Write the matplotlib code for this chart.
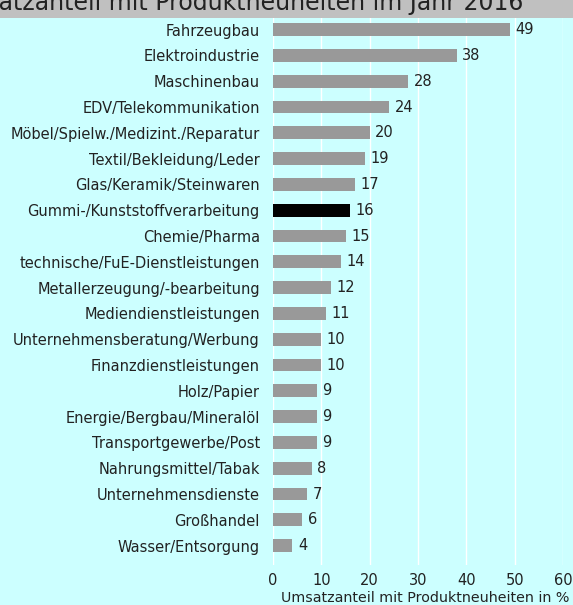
import matplotlib.pyplot as plt
from matplotlib.patches import Rectangle

# data
branchen = ["Fahrzeugbau", "Elektroindustrie", "Maschinenbau", "EDV/Telekommunikation",
            "Möbel/Spielw./Medizint./Reparatur", "Textil/Bekleidung/Leder",
            "Glas/Keramik/Steinwaren", "Gummi-/Kunststoffverarbeitung", "Chemie/Pharma",
            "technische/FuE-Dienstleistungen", "Metallerzeugung/-bearbeitung",
            "Mediendienstleistungen", "Unternehmensberatung/Werbung",
            "Finanzdienstleistungen", "Holz/Papier", "Energie/Bergbau/Mineralöl",
            "Transportgewerbe/Post", "Nahrungsmittel/Tabak", "Unternehmensdienste",
            "Großhandel", "Wasser/Entsorgung"]
anteil = [49, 38, 28, 24, 20, 19, 17, 16, 15, 14, 12, 11, 10, 10, 9, 9, 9, 8, 7, 6, 4]
highlight = "Gummi-/Kunststoffverarbeitung"
x_ticks = [0, 10, 20, 30, 40, 50, 60]

W, H = 573, 605
bg = "#ccffff"
txt = "#222222"

fig = plt.figure(figsize=(W / 100, H / 100), dpi=100)
fig.patch.set_facecolor(bg)

# gray title band at the top (title runs off the top edge like in the original)
fig.patches.append(Rectangle((0, 1 - 18 / H), 1, 18 / H, transform=fig.transFigure,
                             facecolor="#c0c0c0", edgecolor="none", zorder=0))
fig.text(523 / W, 1 - 10 / H, "Umsatzanteil mit Produktneuheiten im Jahr 2016",
         ha="right", va="baseline", fontsize=17, color=txt)

ax = fig.add_axes([273 / W, 1 - 565 / H, (563 - 273) / W, (565 - 18) / H])
ax.set_facecolor(bg)

ypos = list(range(len(branchen)))
colors = ["black" if b == highlight else "#999999" for b in branchen]
ax.barh(ypos, anteil, height=0.5, color=colors, zorder=3)

for y, v in zip(ypos, anteil):
    ax.annotate(str(v), (v, y), xytext=(4, 0), textcoords="offset points",
                va="center", ha="left", fontsize=10.5, color=txt)

ax.set_xlim(0, 60)
ax.set_ylim(20.75, -0.45)
ax.set_yticks(ypos)
ax.set_yticklabels(branchen, fontsize=10.5, color=txt)
ax.set_xticks(x_ticks)
ax.set_xticklabels([str(t) for t in x_ticks], fontsize=10.5, color=txt)
ax.tick_params(axis="y", length=0, pad=9.5)
ax.tick_params(axis="x", length=0, pad=6)
ax.grid(axis="x", color="white", linewidth=1.0, zorder=1)
for s in ax.spines.values():
    s.set_visible(False)

fig.text(569 / W, 1 - 598 / H, "Umsatzanteil mit Produktneuheiten in %",
         ha="right", va="center", fontsize=10.3, color=txt)

fig.savefig("out.png", dpi=100, facecolor=fig.get_facecolor())
